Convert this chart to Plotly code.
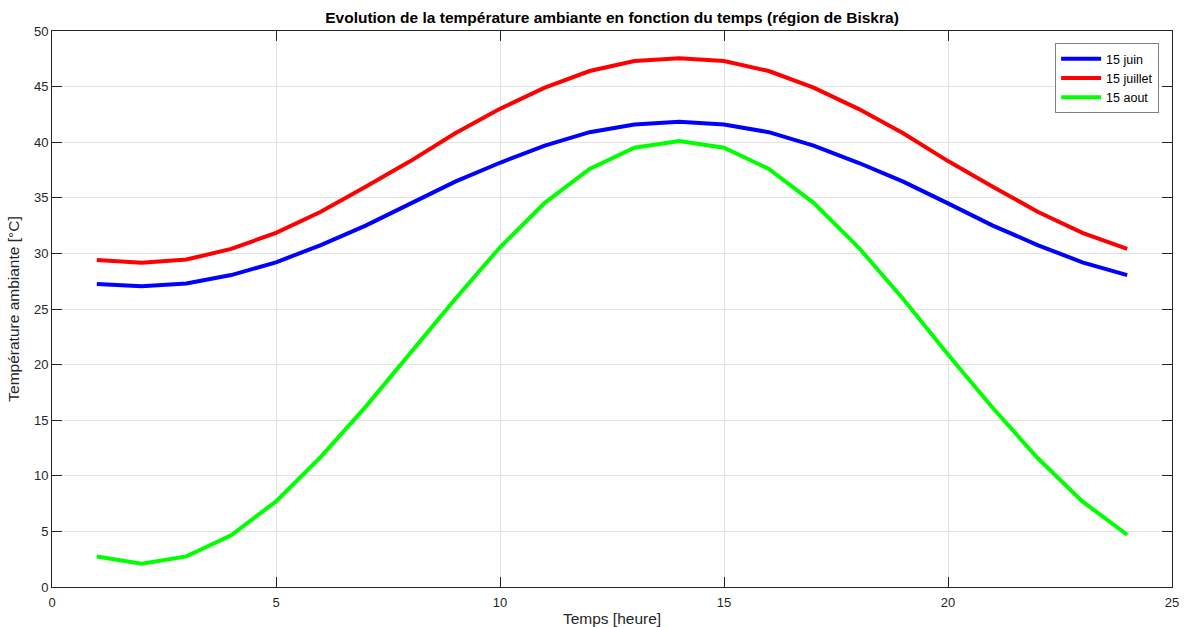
import plotly.graph_objects as go

hours = list(range(1, 25))
juin = [27.25, 27.05, 27.3, 28.05, 29.2, 30.75, 32.5, 34.5, 36.45, 38.15, 39.7, 40.9,
        41.6, 41.85, 41.6, 40.9, 39.7, 38.15, 36.45, 34.5, 32.5, 30.75, 29.2, 28.05]
juillet = [29.4, 29.15, 29.45, 30.4, 31.85, 33.75, 36.0, 38.3, 40.8, 43.0, 44.9, 46.4,
           47.3, 47.55, 47.3, 46.4, 44.9, 43.0, 40.8, 38.3, 36.0, 33.75, 31.85, 30.4]
aout = [2.75, 2.1, 2.75, 4.65, 7.7, 11.7, 16.2, 21.0, 25.9, 30.55, 34.55, 37.6,
        39.5, 40.1, 39.5, 37.6, 34.55, 30.55, 25.9, 20.9, 16.1, 11.6, 7.7, 4.7]

series = [("15 juin", juin, "#0000ff"), ("15 juillet", juillet, "#ff0000"), ("15 aout", aout, "#00ff00")]

fig = go.Figure()
for name, vals, col in series:
    fig.add_trace(go.Scatter(x=hours, y=vals, mode="lines", name=name,
                             line=dict(color=col, width=4)))

axis_common = dict(
    showline=True, linecolor="#262626", linewidth=1, mirror="ticks",
    ticks="inside", ticklen=10, tickcolor="#262626", tickwidth=1,
    showgrid=True, gridcolor="#e3e3e3", gridwidth=1, zeroline=False,
    automargin=False,
    tickfont=dict(family="Liberation Sans, Arial", size=13, color="#262626"),
)

fig.update_layout(
    width=1184, height=627,
    margin=dict(l=52, r=12, t=31, b=40),
    paper_bgcolor="white", plot_bgcolor="white",
    title=dict(text="<b>Evolution de la température ambiante en fonction du temps (région de Biskra)</b>",
               x=(52 + 1172) / 2 / 1184, xanchor="center", y=1 - 18 / 627, yanchor="middle",
               font=dict(family="Liberation Sans, Arial", size=15.5, color="black")),
    xaxis=dict(range=[0, 25], tickvals=[0, 5, 10, 15, 20, 25], ticklabelstandoff=3,
               title=dict(text="Temps [heure]", standoff=13,
                          font=dict(family="Liberation Sans, Arial", size=15.5, color="#262626")),
               **axis_common),
    yaxis=dict(range=[0, 50], tickvals=list(range(0, 51, 5)),
               title=dict(text="Température ambiante [°C]", standoff=10,
                          font=dict(family="Liberation Sans, Arial", size=15.5, color="#262626")),
               **axis_common),
    legend=dict(x=0.9885, y=0.978, xanchor="right", yanchor="top",
                bgcolor="white", bordercolor="#808080", borderwidth=1,
                font=dict(family="Liberation Sans, Arial", size=12.5, color="black"),
                tracegroupgap=0, itemwidth=40),
    showlegend=True,
)

fig.write_html("out.html")
